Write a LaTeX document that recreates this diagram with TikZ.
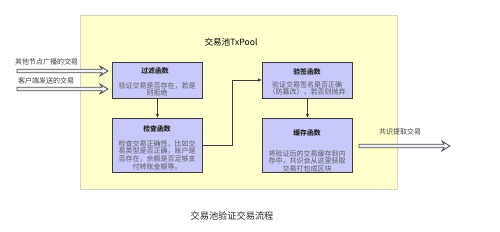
\documentclass[tikz,border=0pt]{standalone}
\usepackage{fontspec}
\setmainfont{Noto Sans CJK SC}
\usetikzlibrary{arrows.meta,calc}
\definecolor{pool}{HTML}{FFFFCC}
\definecolor{poolline}{HTML}{D8D8C0}
\definecolor{boxfill}{HTML}{C8C8FA}
\definecolor{boxline}{HTML}{3C3C3C}
\definecolor{bodytext}{HTML}{5A5A5A}
\definecolor{arrowfill}{HTML}{EEF2F8}
\tikzset{
  fbox/.style={draw=boxline, line width=0.9pt, fill=boxfill, minimum width=90pt, inner sep=0pt},
  ftitle/.style={font=\fontsize{6.8}{7}\selectfont\bfseries, text=black!85, inner sep=0pt},
  fbody/.style={font=\fontsize{7}{7.6}\selectfont, text=bodytext, align=center, inner sep=0pt},
  sidelabel/.style={font=\fontsize{7}{8}\selectfont, text=black!75, inner sep=0pt},
  flow/.style={draw=boxline, line width=0.8pt, -{Latex[length=4pt,width=3.5pt]}},
  bigarrow/.style={draw=black!70, fill=arrowfill, line width=0.8pt, line join=miter},
}
\newcommand\hollowarrow[2]{%
  \path[bigarrow] let \p1=(#1), \p2=(#2) in
    (\x1,\y1+1.7pt) -- (\x2-6pt,\y1+1.7pt) -- (\x2-8pt,\y1+4.8pt) -- (\x2,\y1)
    -- (\x2-8pt,\y1-4.8pt) -- (\x2-6pt,\y1-1.7pt) -- (\x1,\y1-1.7pt) -- cycle;}
\begin{document}
\begin{tikzpicture}[x=1pt,y=-1pt]
\useasboundingbox (0,0) rectangle (500,231);
\fill[white] (0,0) rectangle (500,231);
\node[draw=poolline, fill=pool, line width=0.6pt, minimum width=317pt, minimum height=174pt, inner sep=0pt, anchor=north west] (pool) at (80,15) {};
\node[font=\fontsize{8.6}{10}\selectfont, inner sep=0pt] (ptitle) at (231,42) {交易池TxPool};

\node[fbox, minimum height=36pt, anchor=north west] (b1) at (112,62) {};
\node[ftitle] (t1) at (155,71) {过滤函数};
\node[fbody] (d1) at (157,89.5) {验证交易是否存在，若是\\则拒绝};

\node[fbox, minimum height=54pt, anchor=north west] (b2) at (112,118) {};
\node[ftitle] (t2) at (157,129) {检查函数};
\node[fbody] (d2) at (157,155) {检查交易正确性，比如交\\易类型是否正确，账户是\\否存在，余额是否足够支\\付转账金额等。};

\node[fbox, minimum height=36pt, anchor=north west] (b3) at (262,62) {};
\node[ftitle] (t3) at (307,72) {验签函数};
\node[fbody] (d3) at (307,88.5) {验证交易签名是否正确\\（防篡改），若否则抛弃};

\node[fbox, minimum height=54pt, anchor=north west] (b4) at (262,118) {};
\node[ftitle] (t4) at (307,133) {缓存函数};
\node[fbody] (d4) at (307,161) {将验证后的交易缓存到内\\存中，共识会从这里获取\\交易打包成区块};

\draw[flow] (b1.south) -- (b2.north);
\draw[flow] (b2.east |- 0,145) -| (232,80) -- (b3.west |- 0,80);
\draw[flow] (b3.south) -- (b4.north);

\coordinate (in1) at (17,71);
\coordinate (in2) at (17,89);
\coordinate (outs) at (359,146);
\coordinate (oute) at (450,146);
\coordinate (e1) at (108,71);
\coordinate (e2) at (108,89);
\hollowarrow{in1}{e1}
\hollowarrow{in2}{e2}
\hollowarrow{outs}{oute}
\node[sidelabel, anchor=west] (l1) at (15,62) {其他节点广播的交易};
\node[sidelabel, anchor=west] (l2) at (18,81) {客户端发送的交易};
\node[sidelabel] (l3) at (400,132) {共识提取交易};

\node[font=\fontsize{9.2}{11}\selectfont, text=black!85, inner sep=0pt] (cap) at (232,216) {交易池验证交易流程};
\end{tikzpicture}
\end{document}
